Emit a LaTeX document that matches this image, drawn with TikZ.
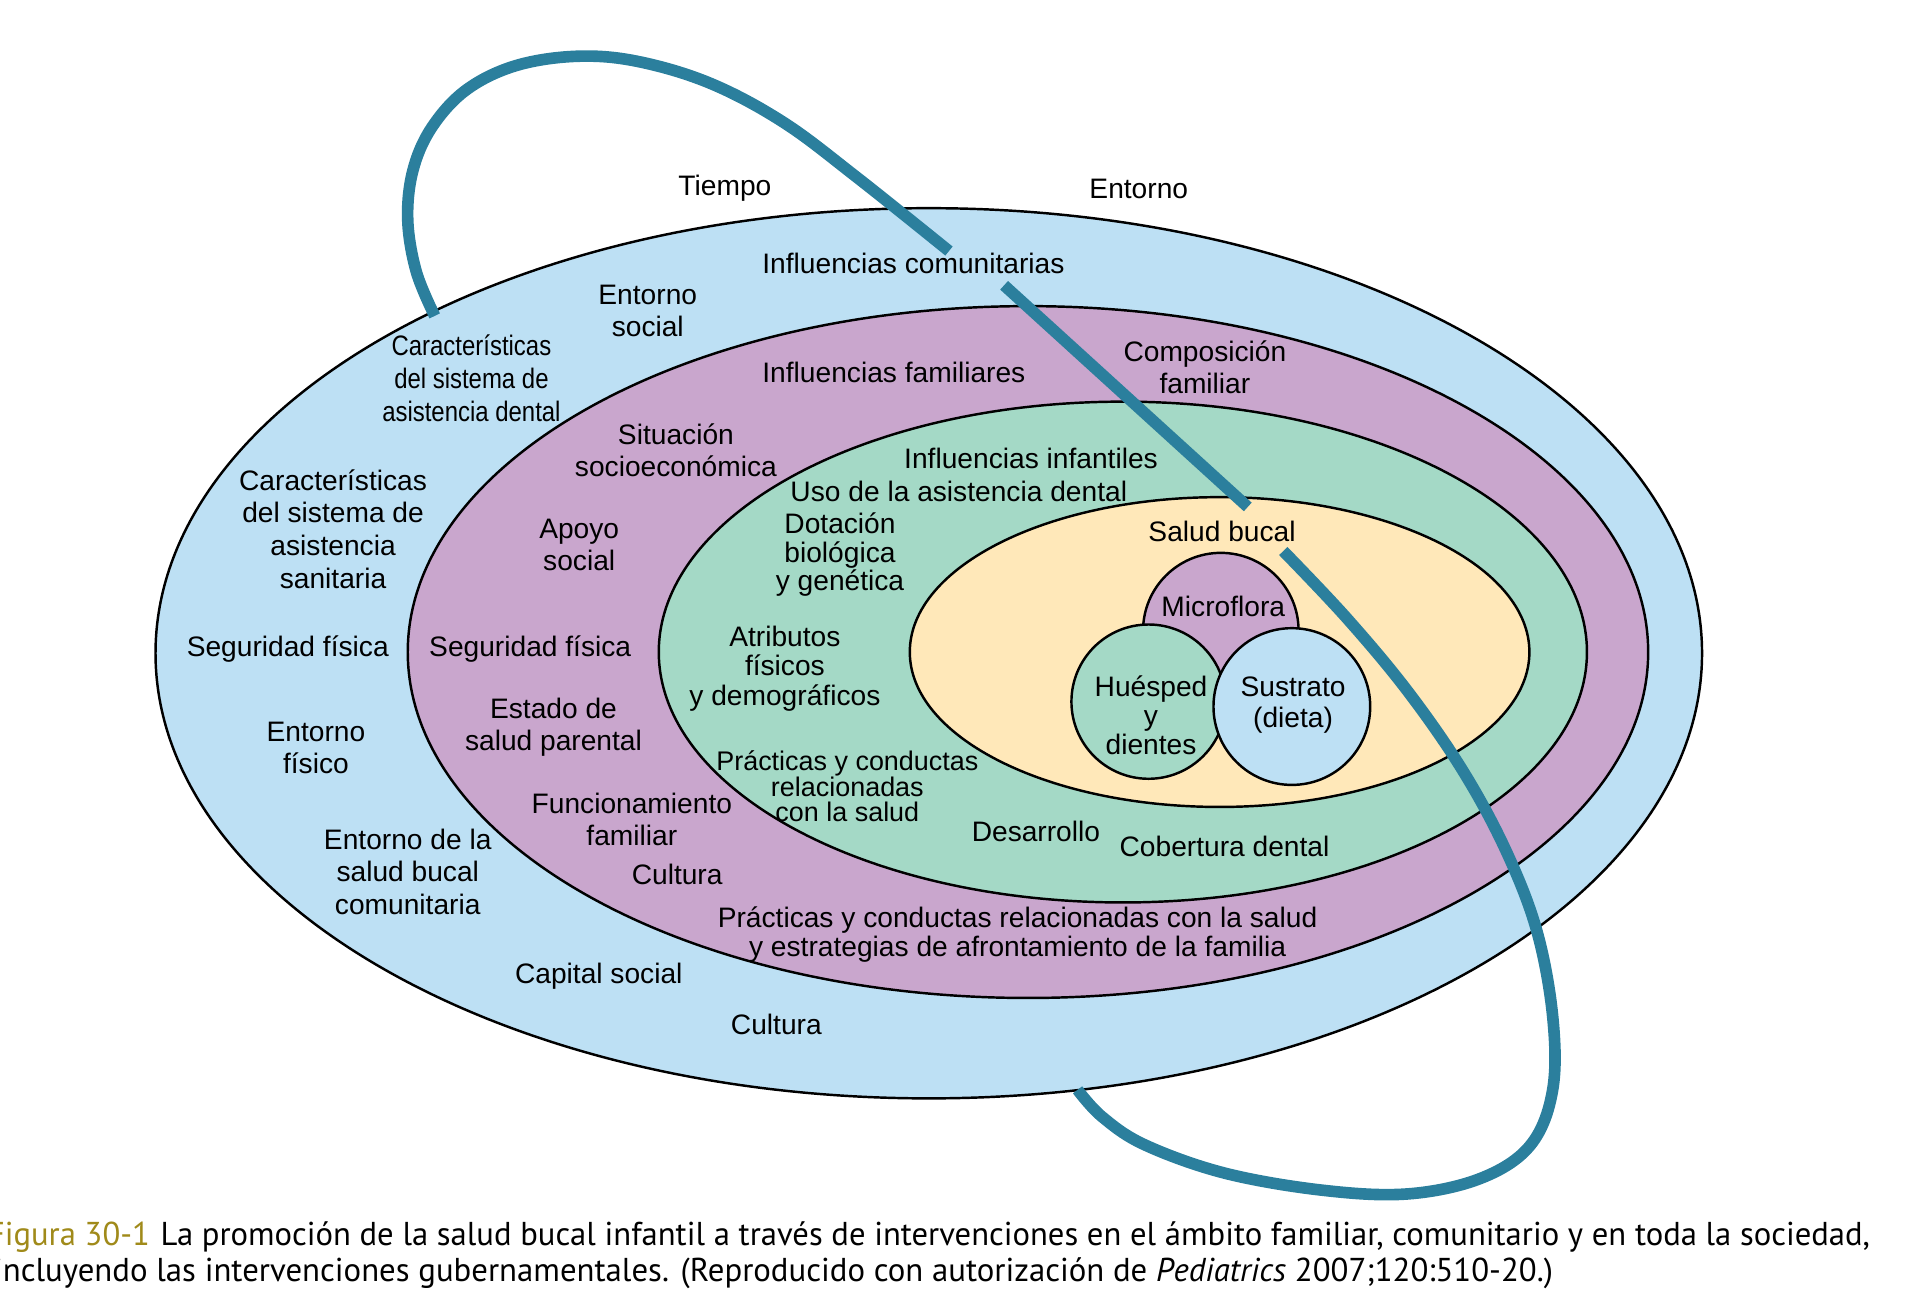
\documentclass[tikz,border=0pt]{standalone}
\usepackage{fontspec}
\usepackage{graphicx}
\setmainfont{Liberation Sans}
\newfontfamily\capfont{PT Sans}
\definecolor{cblue}{HTML}{BDE0F4}
\definecolor{cpurp}{HTML}{C9A6CD}
\definecolor{cgreen}{HTML}{A4D9C6}
\definecolor{cyel}{HTML}{FFE8B9}
\definecolor{cteal}{HTML}{2B7F9D}
\definecolor{cgold}{HTML}{A08A1A}
\newcommand{\fsz}[2]{\fontsize{#1pt}{#2pt}\selectfont}
\tikzset{
  ring/.style={draw=black, line width=2pt},
  band/.style={draw=cteal, line width=9.5pt, line cap=butt},
  lab/.style={align=center, inner sep=0pt, font=\fsz{23}{26}},
}
\begin{document}
\begin{tikzpicture}[x=1pt,y=1pt]
\useasboundingbox (0,0) rectangle (1568,-1060);
% rings
\draw[ring, fill=cblue]  (758.5,-533.5) ellipse [x radius=631.5, y radius=363.5];
\draw[ring, fill=cpurp]  (839.5,-532.5) ellipse [x radius=506.5, y radius=282.5];
\draw[ring, fill=cgreen] (917,-532.5)   ellipse [x radius=379,   y radius=204.5];
\draw[ring, fill=cyel]   (996,-532.5)   ellipse [x radius=253,   y radius=126.5];
% circles
\draw[ring, fill=cpurp]  (997,-515) circle [radius=63.5];
\draw[ring, fill=cgreen] (938,-573) circle [radius=63];
\draw[ring, fill=cblue]  (1055,-577) circle [radius=64];
% band
\draw[band] plot[smooth, tension=0.6] coordinates {(355,-258) (340,-222) (333,-180) (337,-140) (352,-105) (380,-74) (420,-54) (470,-46) (520,-50) (580,-68) (640,-100) (700,-145) (775,-205)};
\draw[band] (820,-233) -- (1019,-414);
\draw[band] plot[smooth, tension=0.6] coordinates {(1048,-450) (1100,-505) (1150,-565) (1195,-630) (1230,-695) (1255,-760) (1268,-830) (1268,-890) (1250,-935) (1210,-962) (1150,-975) (1080,-972) (1000,-958) (935,-935) (900,-912) (880,-890)};
% outside labels
\node[lab] (tiempo) at (592,-154) {Tiempo};
\node[lab] (entorno) at (930,-154) {Entorno};
% blue ring
\node[lab] (infcom) at (746,-215) {Influencias comunitarias};
\node[lab] (entsoc) at (529,-254) {Entorno\\social};
\node[lab, font=\fsz{23}{27}] (csd) at (385,-312) {\scalebox{0.85}[1]{\begin{tabular}{@{}c@{}}Características\\del sistema de\\asistencia dental\end{tabular}}};
\node[lab, font=\fsz{23}{26.7}] (css) at (272,-432) {Características\\del sistema de\\asistencia\\sanitaria};
\node[lab] (segfis1) at (235,-530) {Seguridad física};
\node[lab] (entfis) at (258,-611) {Entorno\\físico};
\node[lab, font=\fsz{23}{26.5}] (entsb) at (333,-712) {Entorno de la\\salud bucal\\comunitaria};
\node[lab] (capsoc) at (489,-797) {Capital social};
\node[lab] (cult1) at (634,-837) {Cultura};
% purple ring
\node[lab] (inffam) at (730,-304) {Influencias familiares};
\node[lab] (compfam) at (984,-300) {Composición\\familiar};
\node[lab] (sitsoc) at (552,-368) {Situación\\socioeconómica};
\node[lab] (apoyo) at (473,-445) {Apoyo\\social};
\node[lab] (segfis2) at (433,-530) {Seguridad física};
\node[lab] (estsal) at (452,-594) {Estado de\\salud parental};
\node[lab] (funfam) at (516,-669) {Funcionamiento\\familiar};
\node[lab] (cult2) at (553,-714) {Cultura};
\node[lab, font=\fsz{23}{24}] (practfam) at (831,-763) {Prácticas y conductas relacionadas con la salud\\y estrategias de afrontamiento de la familia};
% green ring
\node[lab] (infinf) at (842,-374) {Influencias infantiles};
\node[lab] (usoad) at (783,-401) {Uso de la asistencia dental};
\node[lab, font=\fsz{23}{23.5}] (dotbio) at (686,-453) {Dotación\\biológica\\y genética};
\node[lab, font=\fsz{23}{24}] (atrib) at (641,-546) {Atributos\\físicos\\y demográficos};
\node[lab, font=\fsz{22}{20.5}] (practinf) at (692,-642) {Prácticas y conductas\\relacionadas\\con la salud};
\node[lab] (desarr) at (846,-679) {Desarrollo};
\node[lab] (cobden) at (1000,-691) {Cobertura dental};
% yellow core
\node[lab] (salbuc) at (998,-434) {Salud bucal};
\node[lab] (microf) at (999,-495) {Microflora};
\node[lab, font=\fsz{23}{23.5}] (huesp) at (940,-584) {Huésped\\y\\dientes};
\node[lab, font=\fsz{23}{25}] (sustr) at (1056,-576) {Sustrato\\(dieta)};
% caption
\node[anchor=west, inner sep=0pt] (cap1) at (-10,-1010) {\resizebox{1537pt}{\height}{\capfont\fsz{27}{30}\textcolor{cgold}{Figura 30-1}\hspace{9pt}La promoción de la salud bucal infantil a través de intervenciones en el ámbito familiar, comunitario y en toda la sociedad,}};
\node[anchor=west, inner sep=0pt] (cap2) at (-5,-1040) {\resizebox{1273pt}{\height}{\capfont\fsz{27}{30}incluyendo las intervenciones gubernamentales. (Reproducido con autorización de \textit{Pediatrics} 2007;120:510-20.)}};
\end{tikzpicture}
\end{document}
